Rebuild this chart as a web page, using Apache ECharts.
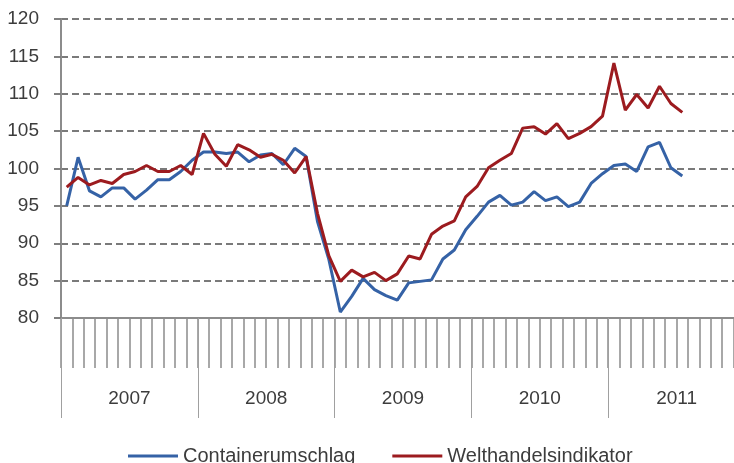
<!DOCTYPE html>
<html>
<head>
<meta charset="utf-8">
<script src="https://cdn.jsdelivr.net/npm/echarts@6/dist/echarts.min.js"></script>
<style>
html,body{margin:0;padding:0;background:#fff;}
#chart{width:734px;height:463px;}
</style>
</head>
<body>
<div id="chart"></div>
<script>
var years = ['2007', '2008', '2009', '2010', '2011'];
var monthNames = ['01','02','03','04','05','06','07','08','09','10','11','12'];
var yTicks = [80, 85, 90, 95, 100, 105, 110, 115, 120];

var containerumschlag = [
  95.0, 101.5, 97.0, 96.2, 97.4, 97.4, 95.9, 97.1, 98.5, 98.5, 99.6, 101.1,
  102.2, 102.2, 102.0, 102.2, 100.9, 101.8, 102.0, 100.5, 102.7, 101.6, 92.9, 87.8,
  80.8, 82.9, 85.3, 83.8, 83.0, 82.4, 84.7, 84.9, 85.1, 87.9, 89.1, 91.8,
  93.6, 95.5, 96.4, 95.1, 95.5, 96.9, 95.7, 96.2, 94.9, 95.5, 98.0, 99.3,
  100.4, 100.6, 99.6, 102.9, 103.5, 100.1, 99.0
];
var welthandelsindikator = [
  97.5, 98.8, 97.8, 98.4, 98.0, 99.2, 99.6, 100.4, 99.6, 99.6, 100.4, 99.2,
  104.7, 101.9, 100.3, 103.2, 102.5, 101.5, 101.9, 101.1, 99.4, 101.6, 94.0, 88.3,
  84.9, 86.4, 85.5, 86.1, 85.0, 85.9, 88.3, 87.9, 91.2, 92.3, 93.0, 96.2,
  97.6, 100.1, 101.1, 102.0, 105.4, 105.6, 104.6, 106.0, 104.0, 104.7, 105.6, 107.0,
  114.1, 107.8, 109.9, 108.1, 111.0, 108.7, 107.5
];

var months = [];
years.forEach(function (y) { monthNames.forEach(function (m) { months.push(y + '-' + m); }); });

var FONT = "'Liberation Sans', Arial, sans-serif";
var TEXT = '#3c3c3c';
var chart = echarts.init(document.getElementById('chart'), null, {renderer: 'canvas'});
chart.setOption({
  animation: false,
  backgroundColor: '#ffffff',
  grid: {left: 61, top: 19, width: 684, height: 299, containLabel: false, outerBoundsMode: 'none'},
  legend: {
    left: 123, top: 441,
    itemWidth: 50, itemHeight: 3, itemGap: 37,
    icon: 'rect',
    textStyle: {fontFamily: FONT, fontSize: 20, color: TEXT, padding: [0, 0, 0, 0]},
    data: ['Containerumschlag', 'Welthandelsindikator']
  },
  xAxis: [
    {
      type: 'category', data: months, position: 'bottom', boundaryGap: true,
      axisLine: {show: true, lineStyle: {color: '#8c8c8c', width: 2}},
      axisTick: {show: true, interval: 0, length: 50, lineStyle: {color: '#8c8c8c', width: 1.5}},
      axisLabel: {show: false},
      splitLine: {show: false}
    },
    {
      type: 'category', data: years, position: 'bottom', boundaryGap: true,
      axisLine: {show: false},
      axisTick: {show: true, interval: 0, length: 100, lineStyle: {color: '#a0a0a0', width: 1}},
      axisLabel: {show: true, interval: 0, margin: 71, fontFamily: FONT, fontSize: 19, color: TEXT},
      splitLine: {show: false}
    }
  ],
  yAxis: {
    type: 'value', min: yTicks[0], max: yTicks[yTicks.length - 1], interval: 5,
    axisLine: {show: true, lineStyle: {color: '#8c8c8c', width: 2}},
    axisTick: {show: true, length: 7, lineStyle: {color: '#7f7f7f', width: 2}},
    axisLabel: {margin: 22, fontFamily: FONT, fontSize: 19, color: TEXT},
    splitLine: {show: true, lineStyle: {color: '#7a7a7a', width: 2, type: [7, 4]}}
  },
  series: [
    {
      name: 'Containerumschlag', type: 'line', xAxisIndex: 0, data: containerumschlag,
      showSymbol: false, symbol: 'none',
      lineStyle: {color: '#3562a6', width: 3},
      itemStyle: {color: '#3562a6'}
    },
    {
      name: 'Welthandelsindikator', type: 'line', xAxisIndex: 0, data: welthandelsindikator,
      showSymbol: false, symbol: 'none',
      lineStyle: {color: '#9c1b1f', width: 3},
      itemStyle: {color: '#9c1b1f'}
    }
  ]
});
</script>
</body>
</html>
